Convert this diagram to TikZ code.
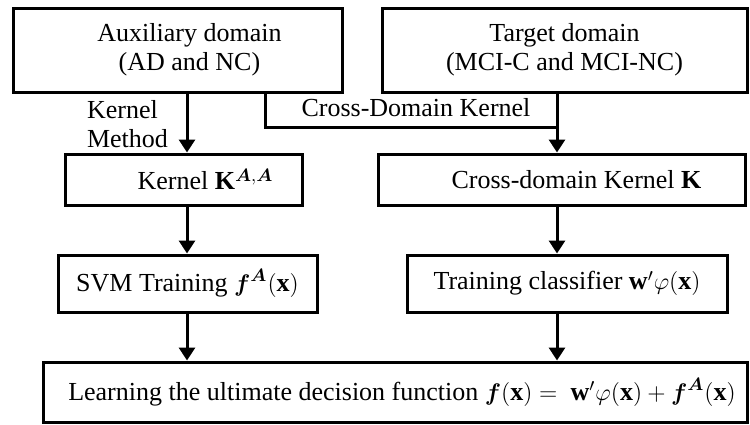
\documentclass[tikz,border=0pt]{standalone}
\usepackage{amsmath,amssymb}
\usepackage{fontspec}
\setmainfont{Liberation Serif}
\usepackage{tikz}
\usetikzlibrary{calc,arrows.meta}

\begin{document}
\begin{tikzpicture}[x=0.5pt,y=-0.5pt,
  font=\fontsize{13}{14.5}\selectfont,
  stagebox/.style={draw,line width=1.5pt,rectangle,align=center,inner sep=0pt},
  flow/.style={line width=1.5pt,-{Triangle[width=8pt,length=6.5pt]}}]
  \useasboundingbox (0,0) rectangle (750,424);
  \coordinate (lcol) at (187,0);
  \coordinate (rcol) at (557,0);
  \node[stagebox,minimum width=164.5pt,minimum height=42pt] (aux) at (177.5,50)
    {\hspace*{12pt}Auxiliary domain\\\hspace*{12pt}(AD and NC)};
  \node[stagebox,minimum width=182.5pt,minimum height=42pt] (tgt) at (564.5,50)
    {Target domain\\(MCI-C and MCI-NC)};
  \node[stagebox,minimum width=118.5pt,minimum height=25.5pt] (ker) at (183.5,179.5)
    {\hspace*{22pt}Kernel $\mathbf{K}^{\boldsymbol{A},\boldsymbol{A}}$};
  \node[stagebox,minimum width=183.5pt,minimum height=25.5pt] (xker) at (561.5,179.5)
    {\hspace*{15pt}Cross-domain Kernel $\mathbf{K}$};
  \node[stagebox,minimum width=129.5pt,minimum height=28.5pt] (svm) at (187.5,283.5)
    {SVM Training $\boldsymbol{f}^{\boldsymbol{A}}(\mathbf{x})$};
  \node[stagebox,minimum width=160pt,minimum height=28.5pt] (clf) at (567,283.5)
    {Training classifier $\mathbf{w}'\varphi(\mathbf{x})$};
  \node[stagebox,minimum width=352pt,minimum height=30pt] (dec) at (395,392)
    {\hspace*{7pt}Learning the ultimate decision function $\boldsymbol{f}(\mathbf{x}) =\;
      \mathbf{w}'\varphi(\mathbf{x}) + \boldsymbol{f}^{\boldsymbol{A}}(\mathbf{x})$};
  \coordinate (bend) at (265,127);
  \coordinate (join) at (557,127);
  \node[anchor=west,align=left] (kmlab) at (80,124) {Kernel\\Method};
  \node (xdlab) at (416,108) {Cross-Domain Kernel};
  \draw[flow] (aux.south -| lcol) -- (ker.north -| lcol);
  \draw[flow] (tgt.south -| rcol) -- (xker.north -| rcol);
  \draw[line width=1.5pt] (aux.south -| bend) -- (bend) -- (join);
  \draw[flow] (ker.south -| lcol) -- (svm.north -| lcol);
  \draw[flow] (xker.south -| rcol) -- (clf.north -| rcol);
  \draw[flow] (svm.south -| lcol) -- (dec.north -| lcol);
  \draw[flow] (clf.south -| rcol) -- (dec.north -| rcol);
\end{tikzpicture}
\end{document}
